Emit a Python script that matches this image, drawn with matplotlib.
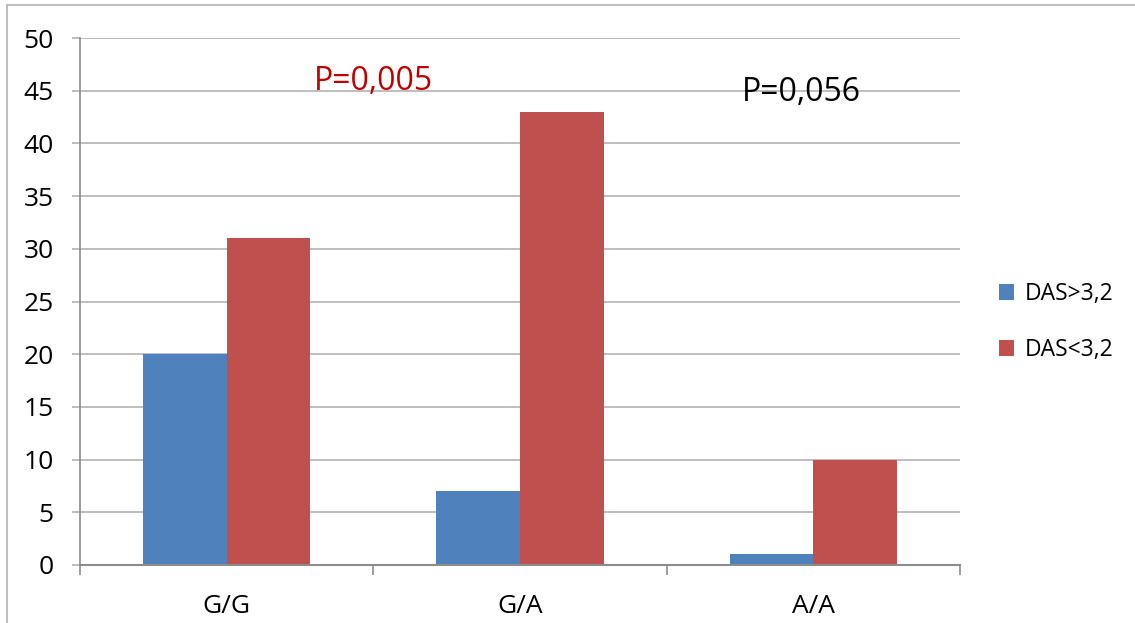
import matplotlib
matplotlib.use("Agg")
import matplotlib.pyplot as plt
from matplotlib.lines import Line2D
from matplotlib.ticker import FixedLocator, NullFormatter
import numpy as np

categories = ["G/G", "G/A", "A/A"]
das_high = [20, 7, 1]
das_low = [31, 43, 10]
series_labels = ["DAS>3,2", "DAS<3,2"]
y_ticks = [0, 5, 10, 15, 20, 25, 30, 35, 40, 45, 50]

BLUE = "#4F81BD"
RED = "#C0504D"
GRID = "#B3B3B3"
AXIS = "#8C8C8C"

plt.rcParams["font.family"] = ["Open Sans", "DejaVu Sans"]

W, H = 1135, 623
fig = plt.figure(figsize=(W / 100, H / 100), dpi=100)
ax = fig.add_axes([80 / W, 1 - 565 / H, 880 / W, 527 / H])

x = np.arange(len(categories))
width = 1 / 3.5
ax.bar(x - width / 2, das_high, width, color=BLUE, label=series_labels[0], zorder=3)
ax.bar(x + width / 2, das_low, width, color=RED, label=series_labels[1], zorder=3)

ax.set_xlim(-0.5, len(categories) - 0.5)
ax.set_ylim(0, 50)
ax.set_yticks(y_ticks)
ax.yaxis.grid(True, color=GRID, linewidth=1.2, zorder=0)
ax.tick_params(axis="y", length=6, width=1.2, color=GRID, labelsize=19, pad=13)

ax.set_xticks(x)
ax.set_xticklabels(categories)
ax.tick_params(axis="x", which="major", length=0, labelsize=19, pad=21)
ax.xaxis.set_minor_locator(FixedLocator(np.arange(len(categories) + 1) - 0.5))
ax.xaxis.set_minor_formatter(NullFormatter())
ax.tick_params(axis="x", which="minor", length=7, width=1.2, color=AXIS)

for side in ("top", "right"):
    ax.spines[side].set_visible(False)
ax.spines["left"].set_color(AXIS)
ax.spines["left"].set_linewidth(1.2)
ax.spines["bottom"].set_color(AXIS)
ax.spines["bottom"].set_linewidth(1.5)
ax.spines["bottom"].set_zorder(4)

ax.text(0.5, 45.85, "P=0,005", color="#C00000", fontsize=23, ha="center", va="center")
ax.text(1.96, 44.8, "P=0,056", color="black", fontsize=23, ha="center", va="center")

fig.legend(loc="center left", bbox_to_anchor=(990 / W, 1 - 322 / H), frameon=False,
           fontsize=16.5, handlelength=0.65, handleheight=0.65, handletextpad=0.45,
           labelspacing=1.4, borderaxespad=0)

# outer frame
fig.add_artist(Line2D([7 / W, 1], [1 - 5 / H, 1 - 5 / H], transform=fig.transFigure,
                      color="#BFBFBF", linewidth=1.5))
fig.add_artist(Line2D([7 / W, 7 / W], [0, 1 - 5 / H], transform=fig.transFigure,
                      color="#BFBFBF", linewidth=1.5))

fig.savefig("out.png", dpi=100, facecolor="white")
